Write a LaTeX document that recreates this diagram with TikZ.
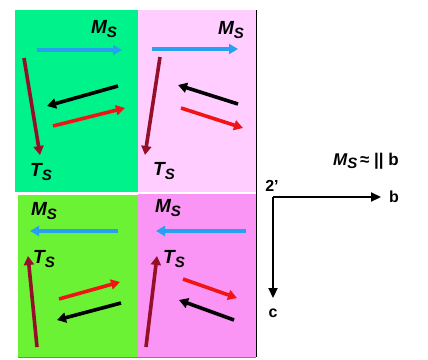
\documentclass[tikz,border=0pt]{standalone}
\usepackage{fontspec}
\setmainfont{Liberation Sans}
\usetikzlibrary{arrows.meta}
\definecolor{gA}{RGB}{0,242,138}
\definecolor{pA}{RGB}{255,205,255}
\definecolor{gB}{RGB}{108,242,52}
\definecolor{pB}{RGB}{250,148,245}
\definecolor{mblue}{RGB}{40,160,240}
\definecolor{tred}{RGB}{150,15,40}
\definecolor{vred}{RGB}{240,20,20}
\tikzset{
  arr/.style={line width=3.6pt,-{Triangle[length=9pt,width=10pt]}},
  lbl/.style={font=\bfseries\itshape\fontsize{19}{19}\selectfont,inner sep=0pt},
  axl/.style={font=\bfseries\fontsize{16}{16}\selectfont,inner sep=0pt},
  axarr/.style={line width=2.2pt,-{Triangle[length=10pt,width=9pt]}}
}
\newcommand{\MS}{M\raisebox{-0.4ex}{\fontsize{15}{15}\selectfont S}}
\newcommand{\TS}{T\raisebox{-0.4ex}{\fontsize{15}{15}\selectfont S}}
\begin{document}
\begin{tikzpicture}[x=1pt,y=-1pt]
\useasboundingbox (0,0) rectangle (428,359);
% panels
\fill[gA] (15,10) rectangle (138,192);
\fill[pA] (138,10) rectangle (256,192);
\fill[gB] (18,195) rectangle (138,357);
\fill[pB] (138,194) rectangle (256,357);
\draw[line width=0.8pt] (256.5,10) -- (256.5,357);
\draw[black!50,line width=0.4pt] (18,357) -- (256,357);
% top-left
\node[lbl] (ms1) at (104,29) {\MS};
\draw[arr,mblue] (37,50) -- (122,50);
\draw[arr,tred] (24,58) -- (40,155);
\node[lbl] (ts1) at (41,172) {\TS};
\draw[arr,black] (118,86) -- (47,106);
\draw[arr,vred] (53,126) -- (125,108);
% top-right
\node[lbl] (ms2) at (231,30) {\MS};
\draw[arr,mblue] (152,49) -- (238,49);
\draw[arr,tred] (160,57) -- (145,155);
\node[lbl] (ts2) at (164,171) {\TS};
\draw[arr,black] (238,104) -- (178,85);
\draw[arr,vred] (181,108) -- (243,128);
% bottom-left
\node[lbl] (ms3) at (44,211) {\MS};
\draw[arr,mblue] (118,231) -- (30,231);
\node[lbl] (ts3) at (44,259) {\TS};
\draw[arr,tred] (37,347) -- (28,256);
\draw[arr,vred] (59,299) -- (120,282);
\draw[arr,black] (121,303) -- (57,320);
% bottom-right
\node[lbl] (ms4) at (168,208) {\MS};
\draw[arr,mblue] (246,231) -- (156,231);
\node[lbl] (ts4) at (174,259) {\TS};
\draw[arr,tred] (146,347) -- (157,256);
\draw[arr,vred] (183,279) -- (237,298);
\draw[arr,black] (234,320) -- (179,300);
% axes
\coordinate (o) at (273,197);
\coordinate (bend) at (381,197);
\coordinate (cend) at (273,298);
\node[axl] (two) at (272,186) {2’};
\draw[axarr] (o) -- (bend);
\draw[axarr] (o) -- (cend);
\node[axl] (b) at (394,197) {b};
\node[axl] (c) at (273,313) {c};
\node[axl,anchor=center,font=\bfseries\fontsize{17}{17}\selectfont] (eq) at (366,161) {{\itshape\MS}\,≈ || b};
\end{tikzpicture}
\end{document}
